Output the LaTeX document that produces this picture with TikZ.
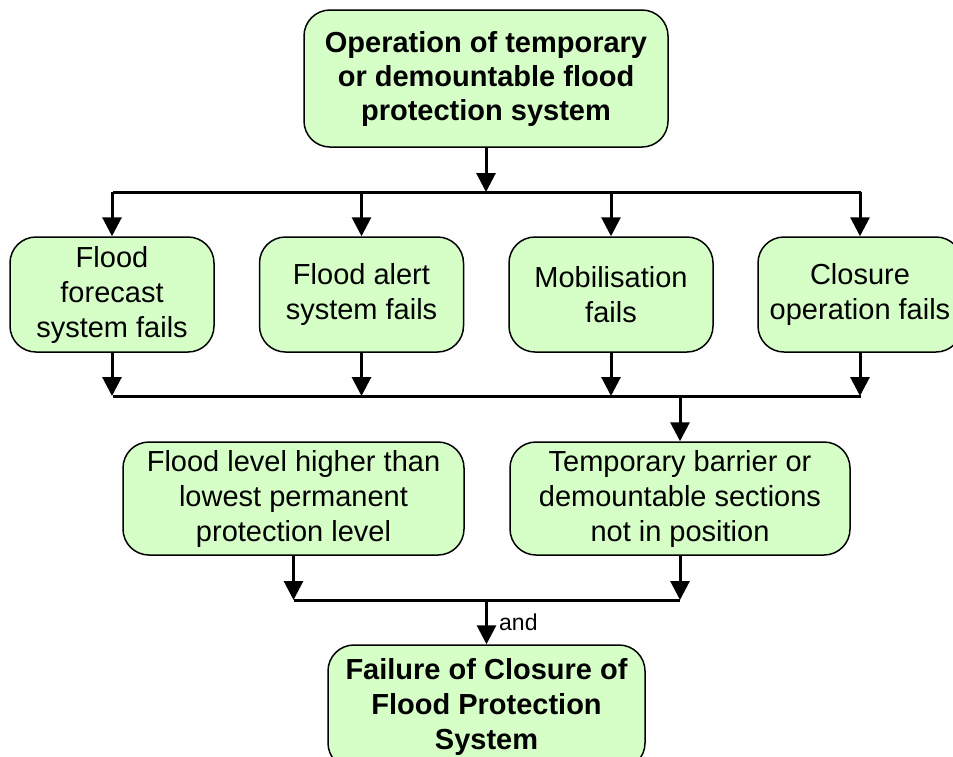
\documentclass[tikz,border=0pt]{standalone}
\usepackage{fontspec}
\setmainfont{Liberation Sans}
\usetikzlibrary{arrows.meta}
\definecolor{boxgreen}{RGB}{214,255,200}
\tikzset{
  box/.style={draw=black, line width=1.5pt, fill=boxgreen, rounded corners=26pt,
    align=center, inner sep=0pt, font=\fontsize{29}{35}\selectfont},
  conn/.style={line width=3pt, draw=black},
  arr/.style={conn, -{Triangle[length=19pt,width=19pt]}},
  lbl/.style={font=\fontsize{23}{27}\selectfont, inner sep=0pt}
}
\begin{document}
\begin{tikzpicture}[x=1pt,y=-1pt]
\clip (0,0) rectangle (953,756);
\fill[white] (0,0) rectangle (953,756);

\node[box, minimum width=364pt, minimum height=137pt, font=\fontsize{29}{34}\selectfont\bfseries] (top) at (486,78.5)
  {Operation of temporary\\or demountable flood\\protection system};

\node[box, minimum width=204pt, minimum height=115pt] (f1) at (112,294.5) {Flood\\forecast\\system fails};
\node[box, minimum width=204pt, minimum height=115pt] (f2) at (361.5,294.5) {Flood alert\\system fails};
\node[box, minimum width=204pt, minimum height=115pt] (f3) at (611,294.5) {Mobilisation\\fails};
\node[box, minimum width=204pt, minimum height=115pt] (f4) at (860,294.5) {Closure\\operation fails};

\node[box, minimum width=341pt, minimum height=113pt] (lvl) at (293.5,498.5) {Flood level higher than\\lowest permanent\\protection level};
\node[box, minimum width=340pt, minimum height=113pt] (bar) at (680,498.5) {Temporary barrier or\\demountable sections\\not in position};

\node[box, minimum width=317pt, minimum height=124pt, font=\fontsize{29}{35}\selectfont\bfseries] (fail) at (486.5,707)
  {Failure of Closure of\\Flood Protection\\System};

% buses
\coordinate (b1L) at (113,192);
\coordinate (b1R) at (861,192);
\coordinate (b2L) at (113,396);
\coordinate (b2R) at (861,396);
\coordinate (b3L) at (293.5,600);
\coordinate (b3R) at (680,600);

\draw[conn] (b1L) -- (b1R);
\draw[conn] (b2L) -- (b2R);
\draw[conn] (b3L) -- (b3R);

\draw[arr] (top.south) -- (top.south |- b1L);
\foreach \n in {f1,f2,f3,f4}{
  \draw[arr] (\n.north |- b1L) -- (\n.north);
  \draw[arr] (\n.south) -- (\n.south |- b2L);
}
\draw[arr] (bar.north |- b2L) -- (bar.north);
\draw[arr] (lvl.south) -- (lvl.south |- b3L);
\draw[arr] (bar.south) -- (bar.south |- b3L);
\draw[arr] (fail.north |- b3L) -- (fail.north);
\node[lbl, anchor=base west] (andlbl) at (499,630) {and};
\end{tikzpicture}
\end{document}
